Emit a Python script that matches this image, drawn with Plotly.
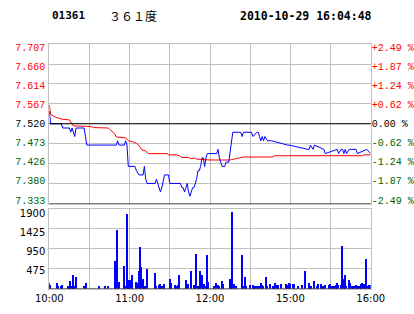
import plotly.graph_objects as go

# ---------------- data ----------------
title_code = "01361"
title_name = "３６１度"
title_time = "2010-10-29 16:04:48"

prev_close = 7.520
price_ticks = [7.333, 7.380, 7.426, 7.473, 7.520, 7.567, 7.614, 7.660, 7.707]
price_labels = ["7.333", "7.380", "7.426", "7.473", "7.520", "7.567", "7.614", "7.660", "7.707"]
pct_labels = ["-2.49 %", "-1.87 %", "-1.24 %", "-0.62 %", "0.00 %",
              "+0.62 %", "+1.24 %", "+1.87 %", "+2.49 %"]
vol_ticks = [0, 475, 950, 1425, 1900]
vol_labels = ["", "475", "950", "1425", "1900"]
time_ticks = [0, 30, 60, 90, 120, 150, 180, 210, 240]   # minutes of trading
time_labels = ["10:00", "", "11:00", "", "12:00", "", "15:00", "", "16:00"]

# price (minute index, price)
price_min = [0, 1, 9, 10, 15, 16, 17, 18, 19, 20, 26, 27, 28, 50, 51, 52, 56, 57, 58, 59,
             64, 65, 67, 70, 71, 72, 73, 79, 80, 81, 82, 83, 84, 85, 86, 89, 90, 98, 99,
             100, 101, 102, 103, 104, 105, 106, 107, 108, 109, 110, 111, 112, 113, 114, 115,
             116, 117, 118, 125, 126, 127, 128, 129, 131, 132, 134, 135, 136, 137, 141, 142,
             143, 144, 145, 151, 152, 155, 156, 157, 158, 159, 160, 161, 163, 165, 166, 178,
             179, 193, 194, 195, 197, 198, 204, 205, 206, 214, 215, 216, 218, 219, 220, 221,
             222, 224, 225, 226, 229, 230, 236, 237, 240]
price_val = [7.55, 7.52, 7.52, 7.51, 7.51, 7.50, 7.51, 7.50, 7.49, 7.51, 7.51, 7.49, 7.47, 7.47,
             7.48, 7.47, 7.47, 7.48, 7.47, 7.42,
             7.42, 7.41, 7.40, 7.40, 7.42, 7.39, 7.38, 7.38, 7.39, 7.38, 7.37, 7.36, 7.37, 7.39,
             7.40, 7.40, 7.38, 7.38, 7.37,
             7.37, 7.36, 7.37, 7.38, 7.36, 7.35, 7.36, 7.37, 7.37, 7.38, 7.39, 7.41, 7.41, 7.42,
             7.44, 7.44,
             7.42, 7.44, 7.45, 7.45, 7.46, 7.44, 7.43, 7.42, 7.42, 7.43, 7.43, 7.45, 7.48, 7.50,
             7.50, 7.50,
             7.50, 7.49, 7.50, 7.50, 7.49, 7.50, 7.50, 7.49, 7.48, 7.49, 7.48, 7.49, 7.48, 7.48,
             7.48, 7.47, 7.47,
             7.46, 7.46, 7.47, 7.46, 7.47, 7.46, 7.46, 7.45, 7.46, 7.46, 7.45, 7.46, 7.46, 7.45,
             7.46, 7.45,
             7.46, 7.46, 7.46, 7.46, 7.45, 7.46, 7.46, 7.45, 7.45]

# average price (minute index, price)
avg_min = [0, 1, 5, 9, 15, 17, 18, 27, 32, 33, 44, 45, 47, 48, 49, 50, 57, 58, 59, 62, 65, 67,
           69, 72, 74, 88, 89, 95, 97, 99, 104, 105, 109, 110, 120, 135, 136, 141, 145, 167,
           168, 234, 235, 240]
avg_val = [7.564, 7.542, 7.535, 7.531, 7.529, 7.518, 7.515, 7.514, 7.513, 7.511, 7.510, 7.507,
           7.503, 7.499, 7.495, 7.489, 7.487, 7.484, 7.480, 7.478, 7.474, 7.469,
           7.459, 7.456, 7.450, 7.450, 7.447, 7.447, 7.445, 7.441, 7.441, 7.439, 7.439, 7.437,
           7.435, 7.435, 7.436, 7.439, 7.442, 7.442,
           7.445, 7.445, 7.447, 7.447]

# volume (minute index, volume)
vol_min = [0, 1, 6, 7, 9, 10, 14, 15, 16, 17, 18, 19, 20, 26, 28, 37, 42, 44, 49, 50, 51, 52,
           56, 57, 58, 59, 60, 61, 62, 65, 66, 67, 68, 69, 70, 71, 72, 73, 79, 80, 82, 83, 84,
           85, 86, 90, 91, 94, 95, 96, 97, 102, 104, 106, 108, 109, 110, 111, 112, 113, 114,
           115, 116, 117, 118, 119,
           123, 125, 126, 127, 129, 130, 135, 136, 137, 138, 140, 144, 145, 146, 147, 150, 152,
           153, 154, 155, 156, 157, 158, 159, 160, 162, 163, 165, 167, 168, 169, 170, 171, 173,
           177, 178, 179, 180, 182, 183, 186, 189, 191, 194, 195, 196, 198, 200, 201, 203, 204,
           205, 206, 209, 210, 211, 212, 213, 214, 215, 216, 218, 219, 220, 221, 222, 224, 225,
           226, 227, 228, 229, 230, 231, 232, 233, 234, 235, 236, 237, 238, 239, 240]
vol_val = [121, 89, 121, 49, 49, 73, 49, 49, 170, 49, 315, 49, 267, 49, 121, 49, 49, 49, 655,
           291, 1407, 146,
           534, 49, 1771, 65, 194, 194, 315, 146, 121, 412, 994, 509, 218, 49, 49, 461, 364, 49,
           73, 97, 49,
           49, 97, 218, 121, 73, 49, 73, 315, 194, 97, 412, 73, 49, 825, 49, 49, 412, 315,
           49, 97, 49, 800, 146,
           49, 121, 73, 49, 170, 97, 218, 49, 1819, 97, 49, 800, 49, 267, 49, 73, 73,
           49, 49, 49, 49, 49, 121, 73, 49, 267, 49, 97, 49, 49, 121, 73, 73, 97,
           97, 73, 121, 97, 97, 97, 49, 73, 412, 121, 49, 49, 170, 49, 97, 97, 49,
           49, 73, 73, 97, 49, 49, 49, 73, 121, 73, 73, 1019, 218, 315, 49, 194, 121,
           49, 49, 49, 73, 49, 49, 49, 97, 121, 97, 49, 711, 49, 73, 73]

# ---------------- styling ----------------
RED = "#ff0000"
GREEN = "#006400"
BLUE = "#0000ff"
GRID = "#c0c0c0"
X0, X1 = 49.3 / 414, 370.7 / 414
P_TOP, P_BOT = 44.0, 203.5
V_TOP, V_BOT = 209.0, 288.5
P_DOM = [1 - P_BOT / 314, 1 - P_TOP / 314]
V_DOM = [1 - V_BOT / 314, 1 - V_TOP / 314]

# label axes: labels sit slightly inside the grid span (as in the original chart)
P_LAB_TOP, P_LAB_BOT = 47.0, 200.0     # pixel rows of top / bottom price labels
pp = (price_ticks[-1] - price_ticks[0]) / (P_LAB_BOT - P_LAB_TOP)
P_LAB_RANGE = [price_ticks[0] - (P_BOT - P_LAB_BOT) * pp,
               price_ticks[-1] + (P_LAB_TOP - P_TOP) * pp]
V_LAB_1900, V_LAB_475 = 213.0, 270.0
vp = (1900 - 475) / (V_LAB_475 - V_LAB_1900)
V_LAB_RANGE = [475 - (V_BOT - V_LAB_475) * vp, 1900 + (V_LAB_1900 - V_TOP) * vp]


def col(v, s):
    if abs(v - prev_close) < 1e-9:
        return s
    c = RED if v > prev_close else GREEN
    return '<span style="color:%s">%s</span>' % (c, s)


left_text = [col(v, s) for v, s in zip(price_ticks, price_labels)]
right_text = [col(v, s) for v, s in zip(price_ticks, pct_labels)]

fig = go.Figure()
fig.add_trace(go.Scatter(x=avg_min, y=avg_val, mode="lines",
                         line=dict(color=RED, width=1), xaxis="x", yaxis="y"))
fig.add_trace(go.Scatter(x=price_min, y=price_val, mode="lines",
                         line=dict(color=BLUE, width=1), xaxis="x", yaxis="y"))
for ya in ("y3", "y4"):
    fig.add_trace(go.Scatter(x=[0, 240], y=P_LAB_RANGE, mode="none",
                             xaxis="x", yaxis=ya, showlegend=False))
fig.add_trace(go.Scatter(x=[0, 240], y=V_LAB_RANGE, mode="none",
                         xaxis="x2", yaxis="y5", showlegend=False))
fig.add_trace(go.Bar(x=vol_min, y=vol_val, width=0.75,
                     marker=dict(color=BLUE, line=dict(width=0)), xaxis="x2", yaxis="y2"))

mono = dict(family="Liberation Mono", size=10, color="black")
sans = dict(family="DejaVu Sans", size=10, color="black")

xcommon = dict(range=[0, 240], tickvals=time_ticks, showgrid=True, gridcolor=GRID,
               gridwidth=1, showline=True, mirror=True, linecolor=GRID, linewidth=1,
               zeroline=False, ticks="", domain=[X0, X1], fixedrange=True,
               automargin=False)
ygrid = dict(showgrid=True, gridcolor=GRID, showline=True, mirror=True, linecolor=GRID,
             zeroline=False, ticks="", showticklabels=False, automargin=False)
ylab = dict(showgrid=False, showline=False, zeroline=False, ticks="", automargin=False)

fig.update_layout(
    width=414, height=314, margin=dict(l=0, r=0, t=0, b=0, autoexpand=False),
    paper_bgcolor="white", plot_bgcolor="white", showlegend=False, hovermode=False,
    bargap=0,
    xaxis=dict(xcommon, anchor="y", showticklabels=False),
    xaxis2=dict(xcommon, anchor="y2", ticktext=time_labels, tickfont=sans),
    yaxis=dict(ygrid, domain=P_DOM, range=[price_ticks[0], price_ticks[-1]],
               tickvals=price_ticks, anchor="x"),
    yaxis2=dict(ygrid, domain=V_DOM, range=[0, 1900], tickvals=vol_ticks, anchor="x2"),
    yaxis3=dict(ylab, overlaying="y", side="right", range=P_LAB_RANGE, anchor="x",
                tickvals=price_ticks, ticktext=right_text, tickfont=mono,
                ticklabelstandoff=0),
    yaxis4=dict(ylab, overlaying="y", side="left", range=P_LAB_RANGE, anchor="x",
                tickvals=price_ticks, ticktext=left_text, tickfont=mono,
                ticklabelstandoff=3),
    yaxis5=dict(ylab, overlaying="y2", side="left", range=V_LAB_RANGE, anchor="x2",
                tickvals=vol_ticks, ticktext=vol_labels, tickfont=sans,
                ticklabelstandoff=3),
    shapes=[
        dict(type="line", xref="x domain", yref="y", x0=0, x1=1, y0=prev_close,
             y1=prev_close, line=dict(color="black", width=1)),
        dict(type="line", xref="x domain", yref="y", x0=0, x1=1, y0=price_ticks[0],
             y1=price_ticks[0], line=dict(color="black", width=1)),
        dict(type="line", xref="x2 domain", yref="y2", x0=0, x1=1, y0=0, y1=0,
             line=dict(color="black", width=1)),
    ],
    annotations=[
        dict(text="<b>%s</b>" % title_code, x=50 / 414, y=1 - 16 / 314, xref="paper",
             yref="paper", xanchor="left", yanchor="middle", showarrow=False,
             font=dict(family="DejaVu Sans Mono", size=11, color="black")),
        dict(text=title_name, x=107 / 414, y=1 - 16 / 314, xref="paper", yref="paper",
             xanchor="left", yanchor="middle", showarrow=False,
             font=dict(family="Noto Sans CJK SC", size=12, color="black")),
        dict(text="<b>%s</b>" % title_time, x=238 / 414, y=1 - 16 / 314, xref="paper",
             yref="paper", xanchor="left", yanchor="middle", showarrow=False,
             font=dict(family="DejaVu Sans Mono", size=11.5, color="black")),
    ],
)

fig.write_html("out.html", config={"displayModeBar": False})
